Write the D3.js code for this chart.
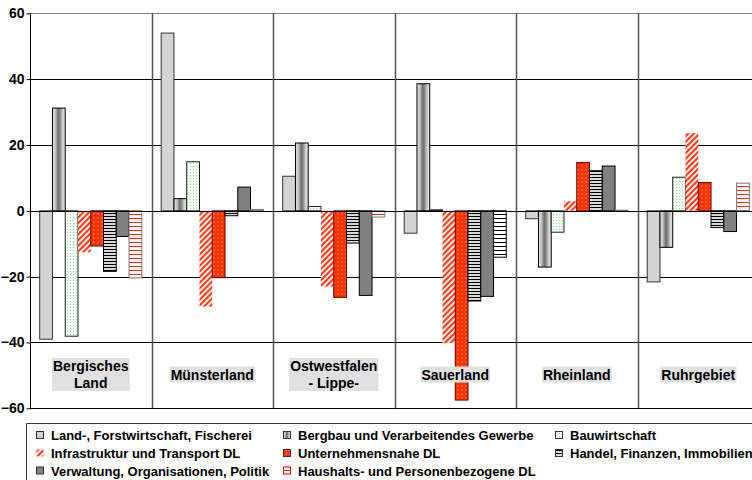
<!DOCTYPE html>
<html>
<head>
<meta charset="utf-8">
<script src="https://cdn.jsdelivr.net/npm/d3@7"></script>
<style>
  html, body { margin: 0; padding: 0; background: #fff; }
  svg { display: block; font-family: "Liberation Sans", Arial, sans-serif; }
</style>
</head>
<body>
<svg id="chart" width="752" height="480"></svg>
<script>
// Regions (x categories) and branch series
const regions = ["Bergisches Land", "Münsterland", "Ostwestfalen - Lippe-", "Sauerland", "Rheinland", "Ruhrgebiet"];
const regionLines = [["Bergisches", "Land"], ["Münsterland"], ["Ostwestfalen", "- Lippe-"], ["Sauerland"], ["Rheinland"], ["Ruhrgebiet"]];
const series = [
  "Land-, Forstwirtschaft, Fischerei",
  "Bergbau und Verarbeitendes Gewerbe",
  "Bauwirtschaft",
  "Infrastruktur und Transport DL",
  "Unternehmensnahe DL",
  "Handel, Finanzen, Immobilien",
  "Verwaltung, Organisationen, Politik",
  "Haushalts- und Personenbezogene DL"
];

// Values per series, in region order
const landForst     = [-39.0, 54.0, 10.5, -6.8, -2.4, -21.6];
const bergbau       = [31.2, 3.7, 20.6, 38.6, -17.1, -11.1];
const bauwirtschaft = [-38.1, 14.9, 1.3, 0.3, -6.5, 10.2];
const infrastruktur = [-12.6, -29.1, -23.0, -40.2, 2.9, 23.6];
const unternehmens  = [-10.7, -20.3, -26.3, -57.5, 14.7, 8.6];
const handel        = [-18.4, -1.5, -9.8, -27.4, 12.2, -5.1];
const verwaltung    = [-7.8, 7.2, -25.7, -26.0, 13.6, -6.3];
const haushalts     = [-20.4, 0.4, -1.9, -14.1, 0.2, 8.4];
const seriesValues = [landForst, bergbau, bauwirtschaft, infrastruktur, unternehmens, handel, verwaltung, haushalts];

const yTicks = [-60, -40, -20, 0, 20, 40, 60];

const svg = d3.select("#chart");
const defs = svg.append("defs");

// ---- fills -------------------------------------------------------------
const grad = defs.append("linearGradient").attr("id", "fBergbau")
  .attr("x1", "0").attr("x2", "1").attr("y1", "0").attr("y2", "0");
[[0, "#e6e6e6"], [0.25, "#bdbdbd"], [0.45, "#6e6e6e"], [0.6, "#8a8a8a"], [0.8, "#cfcfcf"], [1, "#e8e8e8"]]
  .forEach(([o, c]) => grad.append("stop").attr("offset", o).attr("stop-color", c));

const pBau = defs.append("pattern").attr("id", "fBau").attr("patternUnits", "userSpaceOnUse")
  .attr("width", 3).attr("height", 3);
pBau.append("rect").attr("width", 3).attr("height", 3).attr("fill", "#f2fbf2");
pBau.append("rect").attr("x", 1).attr("y", 1).attr("width", 1).attr("height", 1).attr("fill", "#9fd99f");

const pInfra = defs.append("pattern").attr("id", "fInfra").attr("patternUnits", "userSpaceOnUse")
  .attr("width", 4).attr("height", 4).attr("patternTransform", "rotate(45)");
pInfra.append("rect").attr("width", 4).attr("height", 4).attr("fill", "#ffffff");
pInfra.append("rect").attr("width", 2.2).attr("height", 4).attr("fill", "#ff3b1a");

const pUnt = defs.append("pattern").attr("id", "fUnt").attr("patternUnits", "userSpaceOnUse")
  .attr("width", 4).attr("height", 4);
pUnt.append("rect").attr("width", 4).attr("height", 4).attr("fill", "#ff3300");
pUnt.append("rect").attr("x", 1.5).attr("y", 1.5).attr("width", 1).attr("height", 1).attr("fill", "#ffd0c0");

const pHandel = defs.append("pattern").attr("id", "fHandel").attr("patternUnits", "userSpaceOnUse")
  .attr("width", 4).attr("height", 3);
pHandel.append("rect").attr("width", 4).attr("height", 3).attr("fill", "#d8d8d8");
pHandel.append("rect").attr("y", 0).attr("width", 4).attr("height", 1).attr("fill", "#000");

function stripePattern(id, color) {
  const p = defs.append("pattern").attr("id", id).attr("patternUnits", "userSpaceOnUse")
    .attr("width", 4).attr("height", 4);
  p.append("rect").attr("width", 4).attr("height", 4).attr("fill", "#fff");
  p.append("rect").attr("y", 2).attr("width", 4).attr("height", 1).attr("fill", color);
}
stripePattern("fHaus", "#ff2a00");
stripePattern("fHausDark", "#000");

const fills = ["#d4d4d4", "url(#fBergbau)", "url(#fBau)", "url(#fInfra)", "url(#fUnt)", "url(#fHandel)", "#808080", "url(#fHaus)"];
const strokes = ["#333", "#000", "#222", "none", "#600", "#000", "#000", "#777"];
// Sauerland's household bar is printed with dark stripes
const barStyle = (si, ri) => (si === 7 && regions[ri] === "Sauerland")
  ? { fill: "url(#fHausDark)", stroke: "#000" }
  : { fill: fills[si], stroke: strokes[si] };

// ---- scales ------------------------------------------------------------
const plotLeft = 30, step = 121.5;
const x0 = d3.scaleBand().domain(regions).range([plotLeft, plotLeft + step * regions.length]).padding(0);
const x1 = d3.scaleBand().domain(series).range([0, x0.bandwidth()]).paddingInner(0).paddingOuter(0.76);
const y = d3.scaleLinear().domain([-60, 60]).range([408.3, 13.3]);

// ---- grid --------------------------------------------------------------
const grid = svg.append("g");
grid.selectAll("line.h").data(yTicks).join("line")
  .attr("x1", plotLeft).attr("x2", 752)
  .attr("y1", d => Math.round(y(d)) + 0.5).attr("y2", d => Math.round(y(d)) + 0.5)
  .attr("stroke", d => d === 60 ? "#808080" : "#000").attr("stroke-width", 1);

grid.selectAll("line.v").data(regions.slice(1)).join("line")
  .attr("x1", d => Math.round(x0(d)) + 0.5).attr("x2", d => Math.round(x0(d)) + 0.5)
  .attr("y1", y(60)).attr("y2", y(-60))
  .attr("stroke", "#555").attr("stroke-width", 1.5);

// ---- bars --------------------------------------------------------------
const bars = svg.append("g");
seriesValues.forEach((vals, si) => {
  bars.append("g").selectAll("rect").data(vals).join("rect")
    .attr("x", (v, ri) => x0(regions[ri]) + x1(series[si]))
    .attr("width", x1.bandwidth())
    .attr("y", v => y(Math.max(0, v)))
    .attr("height", v => Math.abs(y(v) - y(0)))
    .attr("fill", (v, ri) => barStyle(si, ri).fill)
    .attr("stroke", (v, ri) => barStyle(si, ri).stroke)
    .attr("stroke-width", 1);
});

// zero line on top of bars
svg.append("line")
  .attr("x1", plotLeft).attr("x2", 752)
  .attr("y1", Math.round(y(0)) + 0.5).attr("y2", Math.round(y(0)) + 0.5)
  .attr("stroke", "#000");

// ---- y axis ------------------------------------------------------------
const yAxis = svg.append("g").attr("transform", `translate(${plotLeft + 0.5},0)`)
  .call(d3.axisLeft(y).tickValues(yTicks).tickSize(4).tickPadding(2).tickFormat(d3.format("d")));
yAxis.select(".domain").attr("stroke", "#000").attr("d", `M0,${y(60)}V${y(-60)}`);
yAxis.selectAll(".tick line").attr("stroke", "#000");
yAxis.selectAll(".tick text")
  .attr("font-size", 14).attr("font-weight", "bold").attr("fill", "#000")
  .attr("font-family", "'Liberation Sans', Arial, sans-serif");

// ---- region labels ------------------------------------------------------
const labels = svg.append("g");
regions.forEach((r, i) => {
  const cx = x0(r) + x0.bandwidth() / 2;
  const lines = regionLines[i];
  const lh = 17;
  const g = labels.append("g");
  const t = g.append("text")
    .attr("text-anchor", "middle")
    .attr("font-size", 14).attr("font-weight", "bold").attr("fill", "#000");
  const startY = 379 - (lines.length - 1) * lh / 2 + 0.5;
  lines.forEach((ln, k) => {
    t.append("tspan").attr("x", cx).attr("y", startY + k * lh).text(ln);
  });
  const bb = t.node().getBBox();
  g.insert("rect", "text")
    .attr("x", bb.x - 1).attr("y", bb.y)
    .attr("width", bb.width + 2).attr("height", bb.height)
    .attr("fill", "#e0e0e0");
});

// ---- legend ------------------------------------------------------------
const legend = svg.append("g");
legend.append("path")
  .attr("d", "M26.5,480V423.5H760")
  .attr("fill", "none").attr("stroke", "#333").attr("stroke-width", 1);
const colX = [36, 283, 555];
const rowY = [440, 458, 475.5];
series.forEach((s, i) => {
  const col = i % 3, row = Math.floor(i / 3);
  const gx = colX[col], gy = rowY[row];
  legend.append("rect")
    .attr("x", gx + 0.5).attr("y", gy - 8.5)
    .attr("width", 7).attr("height", 7)
    .attr("fill", fills[i])
    .attr("stroke", i === 3 ? "none" : (i === 7 ? "#c00" : "#333"));
  legend.append("text")
    .attr("x", gx + 15).attr("y", gy)
    .attr("font-size", 13).attr("font-weight", "bold").attr("fill", "#000")
    .text(s);
});
</script>
</body>
</html>
